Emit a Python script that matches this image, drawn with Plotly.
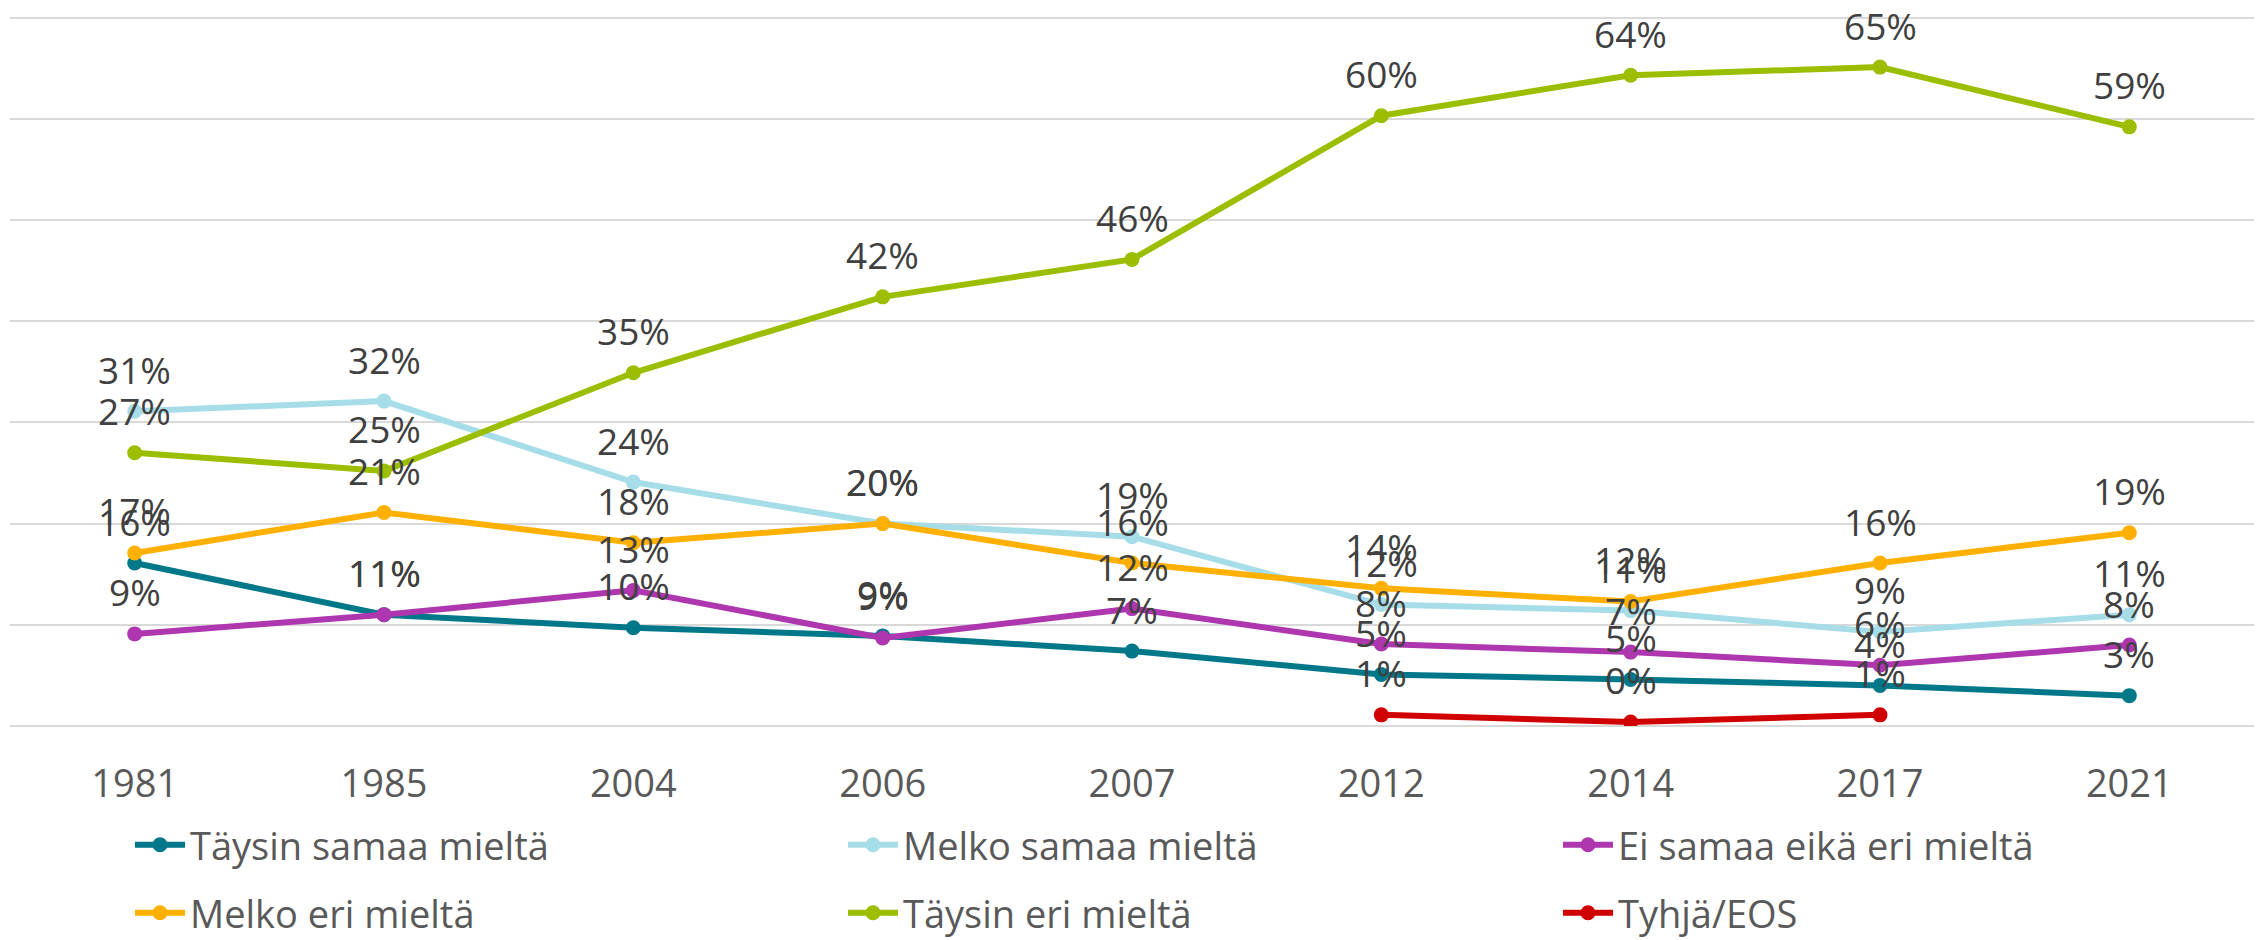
import plotly.graph_objects as go

years = ["1981", "1985", "2004", "2006", "2007", "2012", "2014", "2017", "2021"]

taysin_samaa = [16.1, 11.0, 9.7, 8.9, 7.4, 5.1, 4.6, 4.0, 3.0]
melko_samaa = [31.1, 32.1, 24.1, 20.0, 18.7, 12.0, 11.4, 9.3, 11.0]
ei_samaa_eika_eri = [9.1, 11.0, 13.4, 8.7, 11.6, 8.1, 7.3, 6.0, 8.0]
melko_eri = [17.1, 21.1, 18.1, 20.0, 16.1, 13.6, 12.3, 16.1, 19.1]
taysin_eri = [27.0, 25.2, 34.9, 42.4, 46.1, 60.3, 64.3, 65.1, 59.2]
tyhja_eos = [None, None, None, None, None, 1.1, 0.4, 1.1, None]

series_names = ["Täysin samaa mieltä", "Melko samaa mieltä", "Ei samaa eikä eri mieltä",
                "Melko eri mieltä", "Täysin eri mieltä", "Tyhjä/EOS"]
series_values = [taysin_samaa, melko_samaa, ei_samaa_eika_eri, melko_eri, taysin_eri, tyhja_eos]
series_colors = ["#00788A", "#A6DDE9", "#AE36AF", "#FFB000", "#9BBE00", "#D00000"]

FONT = "Open Sans"
# page body has an 8px margin, so the figure is sized to fit the window
W, H = 2256, 932
ML, MR, MT, MB = 2, 10, 8, 214
PW, PH = W - ML - MR, H - MT - MB

# legend grid (figure pixels): text start per column, centre per row
legend_text_x = [184, 897, 1612]
legend_row_y = [837, 905]
TEXT_OFFSET = 62

fig = go.Figure()
annotations = []
layout_legends = {}
for i, (name, vals, color) in enumerate(zip(series_names, series_values, series_colors)):
    lg = "legend" if i == 0 else f"legend{i + 1}"
    fig.add_trace(go.Scatter(
        x=years, y=vals, name=name, mode="lines+markers",
        line=dict(color=color, width=6),
        marker=dict(color=color, size=15),
        connectgaps=False, legend=lg, showlegend=True,
    ))
    col, row = i % 3, i // 3
    layout_legends[lg] = dict(
        x=(legend_text_x[col] - TEXT_OFFSET - ML) / PW, xanchor="left",
        y=(H - MB - legend_row_y[row]) / PH, yanchor="middle",
        font=dict(family=FONT, size=38, color="#595959"),
        itemwidth=50, bgcolor="rgba(0,0,0,0)", borderwidth=0,
    )
    for j, v in enumerate(vals):
        if v is None:
            continue
        annotations.append(dict(
            x=j, y=v, xref="x", yref="y", text=f"{round(v):d}%",
            showarrow=False, yshift=42,
            font=dict(family=FONT, size=37, color="#404040"),
        ))

fig.update_layout(
    width=W, height=H, showlegend=True,
    margin=dict(l=ML, r=MR, t=MT, b=MB, autoexpand=False),
    paper_bgcolor="white", plot_bgcolor="white",
    annotations=annotations,
    xaxis=dict(
        type="category", range=[-0.5, 8.5], showgrid=False, showline=False,
        ticks="outside", ticklen=24, tickcolor="rgba(0,0,0,0)",
        tickfont=dict(family=FONT, size=38, color="#595959"),
    ),
    yaxis=dict(
        range=[0, 70.15], tickvals=[0, 10, 20, 30, 40, 50, 60, 70], showticklabels=False,
        showgrid=True, gridcolor="#D9D9D9", gridwidth=2, zeroline=True,
        zerolinecolor="#D9D9D9", zerolinewidth=2, fixedrange=True,
    ),
    **layout_legends,
)

fig.write_html("out.html")
